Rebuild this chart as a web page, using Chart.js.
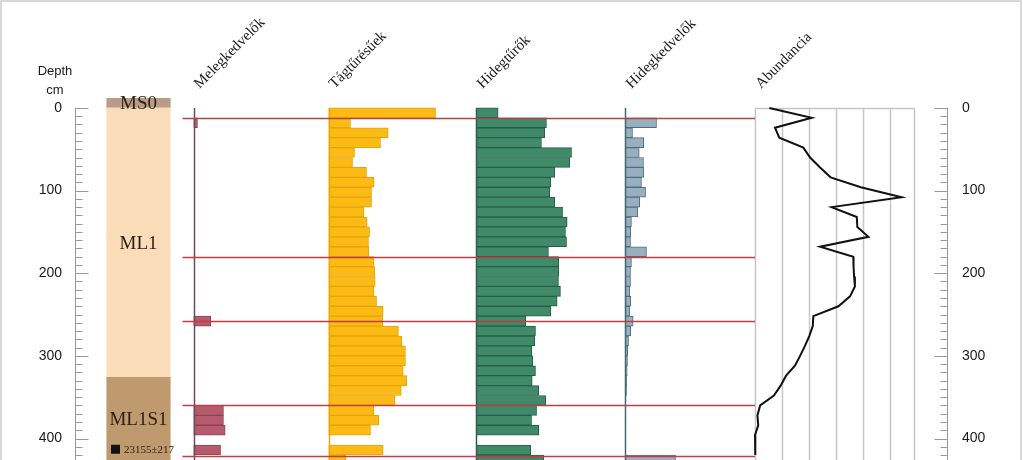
<!DOCTYPE html>
<html>
<head>
<meta charset="utf-8">
<script src="https://cdn.jsdelivr.net/npm/chart.js@4.4.1/dist/chart.umd.min.js"></script>
<style>
  html, body { margin: 0; padding: 0; background: #fff; }
  #wrap { position: relative; width: 1023px; height: 460px; }
</style>
</head>
<body>
<div id="wrap"><canvas id="pollenChart"></canvas></div>
<script>
// 12 cm mintavételi szeletek teteje (cm)
const SLICE_CM = 12;
const sampleTops = [0, 12, 24, 36, 48, 60, 72, 84, 96, 108, 120, 132, 144, 156, 168, 180, 192, 204,
  216, 228, 240, 252, 264, 276, 288, 300, 312, 324, 336, 348, 360, 372, 384, 396, 408, 420];

// százalékos arányok, null = nincs minta
const melegkedvelok = [0, 3.0, 0, 0, 0, 0, 0, 0, 0, 0, 0, 0, 0, 0, 0, 0, 0, 0,
  0, 0, 0, 13.1, 0, 0, 0, 0, 0, 0, 0, 0, 22.7, 22.7, 24.0, null, 20.5, 0];
const tagturesuek = [81.1, 16.7, 45.2, 39.4, 19.7, 18.2, 28.8, 34.6, 32.6, 32.6, 26.7, 29.3, 31.1, 30.3, 30.5, 34.3, 35.1, 35.4,
  34.3, 36.4, 41.4, 41.1, 53.0, 55.5, 58.3, 58.3, 56.6, 59.3, 55.1, 50.5, 34.3, 38.1, 31.8, null, 41.4, 13.1];
const hidegturok = [16.4, 53.0, 51.7, 49.2, 72.0, 70.7, 59.3, 56.3, 55.5, 59.3, 65.2, 68.7, 67.4, 68.2, 54.5, 62.3, 62.3, 62.1,
  63.6, 61.1, 56.3, 37.3, 44.7, 44.2, 41.9, 42.7, 44.7, 42.2, 47.2, 52.5, 45.5, 41.7, 47.2, null, 41.1, 51.0];
const hidegkedvelok = [0, 23.5, 5.3, 13.9, 10.4, 13.6, 13.9, 12.1, 15.2, 10.8, 9.3, 4.5, 4.0, 3.8, 15.9, 4.5, 3.8, 3.8,
  3.3, 4.0, 3.3, 5.8, 4.0, 2.3, 1.7, 1.5, 1.3, 1.0, 0.8, 0.2, 0, 0, 0, null, 0, 37.9];
const abundancia = [5.3, 21.0, 7.4, 9.0, 17.9, 20.4, 24.1, 28.0, 39.2, 54.3, 28.4, 37.7, 37.9, 42.0, 24.1, 36.4, 36.5, 36.7,
  37.0, 35.2, 30.9, 21.6, 21.4, 20.1, 18.5, 16.7, 14.8, 11.5, 9.5, 7.0, 1.9, 0.9, 1.2, 0.0, 0.0, 0.2];

// rétegtan
const unitNames = ['MS0', 'ML1', 'ML1S1'];
const unitTops = [-12, 0, 326];
const unitBottoms = [0, 326, 480];
const dateDepths = [413];
const dateLabels = ['23155±217'];
const boundaryDepths = [12, 180, 258, 360, 421];

const depthTicks = [0, 100, 200, 300, 400];
const minorStep = 10;
const abundanceGrid = [0, 10, 20, 30, 40, 50];
const abundanceMax = 59;
const columnTitles = ['Melegkedvelők', 'Tágtűrésűek', 'Hidegtűrők', 'Hidegkedvelők', 'Abundancia'];

// ---- layout ----
const W = 1023;
const PCT_PX = 1.32;   // px / %
const AB_PX = 2.7;     // px / egység
const SERIF = '"Liberation Serif", "Times New Roman", serif';
const SANS = '"Liberation Sans", Arial, sans-serif';
const unitColors = ['#B99B87', '#FADCB9', '#BE9A6E'];

function placeAt(basePx, pxPerUnit) {
    return {
        type: 'linear', axis: 'x', display: false, offset: false, bounds: 'data',
        grid: { offset: false },
        min: -basePx / pxPerUnit, max: (W - basePx) / pxPerUnit
    };
}

function toBars(values) {
    return values
        .map((v, i) => v === null ? null : { x: v, y: sampleTops[i] + SLICE_CM / 2 })
        .filter(Boolean);
}

function barSet(values, axis, fill, border) {
    return {
        type: 'bar', data: toBars(values), xAxisID: axis, yAxisID: 'y',
        backgroundColor: fill, borderColor: border, borderWidth: 1,
        barPercentage: 1, categoryPercentage: 1, grouped: false
    };
}

const depthScale = { type: 'linear', axis: 'y', display: false, reverse: true, min: -12, max: 426, offset: false, ticks: { stepSize: 100 } };

const decor = {
    id: 'decor',
    beforeDatasetsDraw(chart) {
        const { ctx, chartArea, scales: { y, xAb } } = chart;
        const top = Math.round(y.getPixelForValue(0)) + 0.5;
        const bottom = chartArea.bottom;
        ctx.save();
        ctx.strokeStyle = '#c6c6c6';
        ctx.lineWidth = 1.5;
        ctx.beginPath();
        abundanceGrid.forEach(v => {
            const px = Math.round(xAb.getPixelForValue(v)) + 0.5;
            ctx.moveTo(px, top); ctx.lineTo(px, bottom);
        });
        const right = Math.round(xAb.getPixelForValue(abundanceMax)) + 0.5;
        ctx.moveTo(right, top); ctx.lineTo(right, bottom);
        ctx.moveTo(xAb.getPixelForValue(0), top); ctx.lineTo(right, top);
        ctx.stroke();
        ctx.restore();
    },
    afterDatasetsDraw(chart) {
        const { ctx, chartArea, scales } = chart;
        const y = scales.y;
        const top = y.getPixelForValue(0);
        const bottom = chartArea.bottom;
        ctx.save();

        // oszlopok alapvonala
        [['xMel', '#6e4b5b'], ['xTag', '#E9A80C'], ['xHid', '#2c5f4a'], ['xHk', '#45656f']].forEach(([id, col]) => {
            const px = Math.round(scales[id].getPixelForValue(0)) + 0.5;
            ctx.strokeStyle = col; ctx.lineWidth = 1.5;
            ctx.beginPath(); ctx.moveTo(px, top); ctx.lineTo(px, bottom); ctx.stroke();
        });

        // határvonalak
        const x0 = scales.xMel.getPixelForValue(0) - 11;
        const x1 = scales.xAb.getPixelForValue(0);
        ctx.strokeStyle = '#bb3f44'; ctx.lineWidth = 1.6;
        boundaryDepths.forEach(d => {
            const py = Math.round(y.getPixelForValue(d)) + 0.5;
            ctx.beginPath(); ctx.moveTo(x0, py); ctx.lineTo(x1, py); ctx.stroke();
        });

        // rétegnevek
        const lx = scales.xLith.getPixelForValue(0);
        ctx.fillStyle = '#2b1d12';
        ctx.font = '19px ' + SERIF;
        ctx.textAlign = 'center'; ctx.textBaseline = 'middle';
        unitNames.forEach((n, i) => {
            const a = Math.max(unitTops[i], y.min), b = Math.min(unitBottoms[i], y.max);
            ctx.fillText(n, lx, y.getPixelForValue((a + b) / 2) + 1);
        });
        ctx.font = '11px ' + SERIF;
        ctx.textAlign = 'left';
        dateDepths.forEach((d, i) => {
            const py = y.getPixelForValue(d);
            ctx.fillStyle = '#111';
            ctx.fillRect(lx - 27.5, py - 4.5, 9, 9);
            ctx.fillStyle = '#2b1d12';
            ctx.fillText(dateLabels[i], lx - 14.5, py + 1);
        });

        // mélység tengelyek
        ctx.strokeStyle = '#9a9a9a'; ctx.lineWidth = 1;
        ctx.fillStyle = '#1a1a1a';
        ctx.font = '14px ' + SANS;
        [[75.5, 1, 62, 'right'], [947.5, -1, 962, 'left']].forEach(([ax, dir, tx, align]) => {
            ctx.beginPath(); ctx.moveTo(ax, top); ctx.lineTo(ax, bottom);
            for (let d = 0; d <= y.max; d += minorStep) {
                const py = Math.round(y.getPixelForValue(d)) + 0.5;
                const len = d % 100 === 0 ? 13 : 7;
                ctx.moveTo(ax, py); ctx.lineTo(ax + dir * len, py);
            }
            ctx.stroke();
            ctx.textAlign = align; ctx.textBaseline = 'middle';
            depthTicks.forEach(t => ctx.fillText(String(t), tx, y.getPixelForValue(t)));
        });
        ctx.font = '13px ' + SANS;
        ctx.textAlign = 'center';
        ctx.fillText('Depth', 55, 71);
        ctx.fillText('cm', 55, 90);

        // ferde oszlopcímek
        ctx.font = '15px ' + SERIF;
        ctx.fillStyle = '#1a1a1a';
        ctx.textAlign = 'left'; ctx.textBaseline = 'alphabetic';
        ['xMel', 'xTag', 'xHid', 'xHk', 'xAb'].forEach((id, i) => {
            ctx.save();
            ctx.translate(scales[id].getPixelForValue(0) + 6, 89);
            ctx.rotate(-Math.PI / 4);
            ctx.fillText(columnTitles[i], 0, 0);
            ctx.restore();
        });

        // keret
        ctx.strokeStyle = '#cccccc'; ctx.lineWidth = 1.5;
        ctx.strokeRect(1, 1, 1020, 480);
        ctx.restore();
    }
};

new Chart(document.getElementById('pollenChart'), {
    type: 'bar',
    data: {
        datasets: [
            {
                type: 'bar', indexAxis: 'x', xAxisID: 'xLith', yAxisID: 'yLith',
                data: unitNames.map((n, i) => ({ x: 0, y: [unitTops[i], unitBottoms[i]] })),
                backgroundColor: unitColors, borderWidth: 0, barThickness: 63.5, grouped: false
            },
            barSet(melegkedvelok, 'xMel', '#B65B6E', '#8c4254'),
            barSet(tagturesuek, 'xTag', '#FBBA14', '#E3A40E'),
            barSet(hidegturok, 'xHid', '#3E8A69', '#2a5c47'),
            barSet(hidegkedvelok, 'xHk', '#97AFBF', '#4f6d7a'),
            {
                type: 'line', xAxisID: 'xAb', yAxisID: 'y',
                data: abundancia.map((v, i) => ({ x: v, y: sampleTops[i] })),
                borderColor: '#111', borderWidth: 2, pointRadius: 0, tension: 0, fill: false
            }
        ]
    },
    options: {
        indexAxis: 'y',
        responsive: true,
        maintainAspectRatio: false,
        animation: false,
        layout: { padding: { top: 98, left: 0, right: 0, bottom: 0 } },
        plugins: { legend: { display: false }, tooltip: { enabled: false } },
        scales: {
            y: depthScale,
            yLith: { ...depthScale },
            xLith: placeAt(138.5, 1),
            xMel: placeAt(193.5, PCT_PX),
            xTag: placeAt(328.5, PCT_PX),
            xHid: placeAt(476.5, PCT_PX),
            xHk: placeAt(625.5, PCT_PX),
            xAb: placeAt(755, AB_PX)
        }
    },
    plugins: [decor]
});
</script>
</body>
</html>
